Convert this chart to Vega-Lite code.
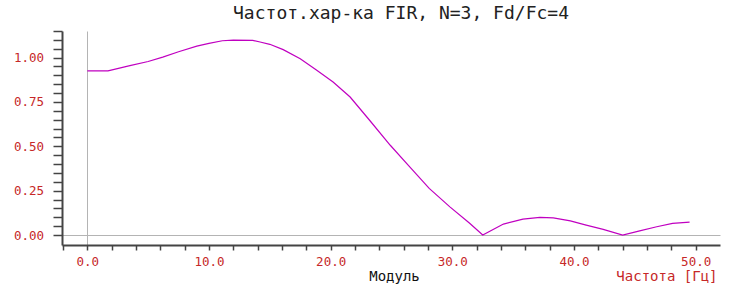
{
  "$schema": "https://vega.github.io/schema/vega-lite/v6.json",
  "width": 658,
  "height": 214,
  "autosize": {"type": "none"},
  "padding": {"left": 62, "top": 31, "right": 10, "bottom": 44},
  "background": "white",
  "config": {
    "view": {"stroke": null},
    "font": "DejaVu Sans Mono"
  },
  "title": {
    "text": "Частот.хар-ка FIR, N=3, Fd/Fc=4",
    "font": "DejaVu Sans Mono",
    "fontSize": 18,
    "fontWeight": "normal",
    "color": "#222222",
    "anchor": "middle",
    "baseline": "alphabetic",
    "offset": 8,
    "dx": 10,
    "dy": 20
  },
  "data": {
    "values": [
      {"f": 0.0, "m": 0.925},
      {"f": 1.7, "m": 0.925},
      {"f": 3.5, "m": 0.955},
      {"f": 5.0, "m": 0.978},
      {"f": 6.2, "m": 1.003},
      {"f": 7.5, "m": 1.033},
      {"f": 9.0, "m": 1.065},
      {"f": 10.0, "m": 1.08},
      {"f": 11.1, "m": 1.095},
      {"f": 12.0, "m": 1.099},
      {"f": 13.6, "m": 1.097},
      {"f": 14.2, "m": 1.088},
      {"f": 15.0, "m": 1.075},
      {"f": 16.1, "m": 1.045},
      {"f": 17.5, "m": 0.994},
      {"f": 18.8, "m": 0.932},
      {"f": 20.2, "m": 0.863},
      {"f": 21.6, "m": 0.778},
      {"f": 23.2, "m": 0.647},
      {"f": 24.9, "m": 0.506},
      {"f": 26.5, "m": 0.384},
      {"f": 28.1, "m": 0.263},
      {"f": 29.8, "m": 0.159},
      {"f": 31.4, "m": 0.068},
      {"f": 32.5, "m": 0.0},
      {"f": 34.2, "m": 0.062},
      {"f": 35.8, "m": 0.09},
      {"f": 37.2, "m": 0.1},
      {"f": 38.3, "m": 0.097},
      {"f": 39.7, "m": 0.08},
      {"f": 41.0, "m": 0.056},
      {"f": 42.4, "m": 0.032},
      {"f": 44.0, "m": 0.0},
      {"f": 45.4, "m": 0.024},
      {"f": 46.8, "m": 0.047},
      {"f": 48.1, "m": 0.066},
      {"f": 49.5, "m": 0.073}
    ]
  },
  "mark": {"type": "line", "color": "#c000c0", "strokeWidth": 1.2},
  "encoding": {
    "x": {
      "field": "f",
      "type": "quantitative",
      "scale": {"domain": [-2.08, 52], "nice": false, "zero": false},
      "axis": {
        "orient": "bottom",
        "grid": true,
        "gridColor": "#b4b4b4",
        "gridWidth": 1,
        "gridOpacity": {"condition": {"test": "datum.value == 0", "value": 1}, "value": 0},
        "values": [-2, 0, 2, 4, 6, 8, 10, 12, 14, 16, 18, 20, 22, 24, 26, 28, 30, 32, 34, 36, 38, 40, 42, 44, 46, 48, 50],
        "labelExpr": "datum.value % 10 == 0 ? format(datum.value, '.1f') : ''",
        "labelFont": "DejaVu Sans Mono",
        "labelFontSize": 12.5,
        "labelColor": "#c62828",
        "labelPadding": 5.5,
        "labelBaseline": "top",
        "labelOverlap": false,
        "labelFlush": false,
        "tickSize": 5,
        "tickColor": "#444444",
        "tickWidth": 1.5,
        "domainColor": "#444444",
        "domainWidth": 2,
        "title": "Частота [Гц]",
        "titleFont": "DejaVu Sans Mono",
        "titleFontSize": 14,
        "titleFontWeight": "normal",
        "titleColor": "#c62828",
        "titleAlign": "right",
        "titleBaseline": "alphabetic",
        "titleX": 655,
        "titleY": 35
      }
    },
    "y": {
      "field": "m",
      "type": "quantitative",
      "scale": {"domain": [-0.056, 1.15], "nice": false, "zero": false},
      "axis": {
        "orient": "left",
        "grid": true,
        "gridColor": "#b4b4b4",
        "gridWidth": 1,
        "gridOpacity": {"condition": {"test": "datum.value == 0", "value": 1}, "value": 0},
        "values": [0, 0.05, 0.1, 0.15, 0.2, 0.25, 0.3, 0.35, 0.4, 0.45, 0.5, 0.55, 0.6, 0.65, 0.7, 0.75, 0.8, 0.85, 0.9, 0.95, 1, 1.05, 1.1, 1.15],
        "labelExpr": "abs(datum.value*4 - round(datum.value*4)) < 0.001 ? format(datum.value, '.2f') : ''",
        "labelFont": "DejaVu Sans Mono",
        "labelFontSize": 12.5,
        "labelColor": "#c62828",
        "labelPadding": 9.5,
        "labelOverlap": false,
        "labelFlush": false,
        "tickSize": 9,
        "tickColor": "#444444",
        "tickWidth": 1.5,
        "domainColor": "#444444",
        "domainWidth": 2,
        "encoding": {
          "ticks": {
            "update": {
              "x2": {"signal": "abs(datum.value*4 - round(datum.value*4)) < 0.001 ? -9 : -5"}
            }
          }
        },
        "title": "Модуль",
        "titleFont": "DejaVu Sans Mono",
        "titleFontSize": 14,
        "titleFontWeight": "normal",
        "titleColor": "#111111",
        "titleAngle": 0,
        "titleAlign": "center",
        "titleBaseline": "alphabetic",
        "titleX": 332,
        "titleY": 249
      }
    }
  }
}
